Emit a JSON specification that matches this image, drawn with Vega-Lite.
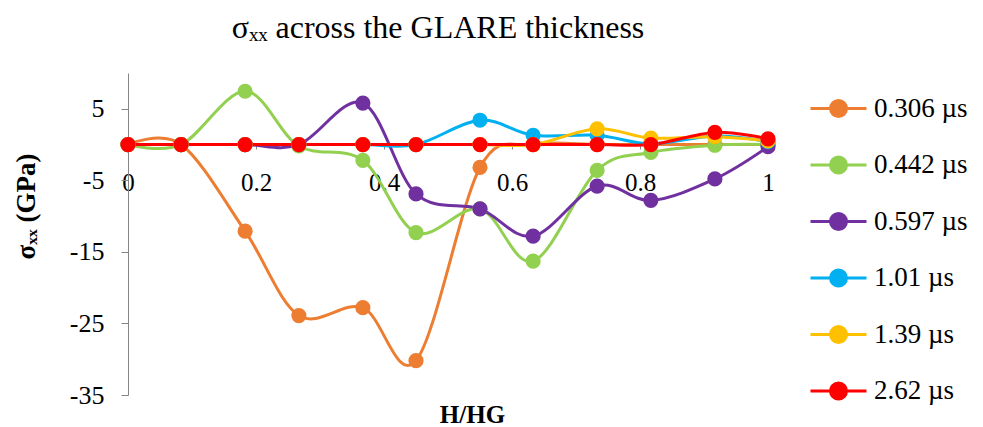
{
  "$schema": "https://vega.github.io/schema/vega-lite/v6.json",
  "autosize": {"type": "none"},
  "padding": {"left": 128, "top": 73, "right": 215, "bottom": 32},
  "width": 640,
  "height": 322,
  "background": "white",
  "title": {
    "text": "σₓₓ across the GLARE thickness",
    "font": "Liberation Serif",
    "fontSize": 32,
    "fontWeight": "normal",
    "color": "black",
    "anchor": "middle",
    "dx": -10,
    "offset": 28
  },
  "config": {
    "view": {"stroke": null},
    "font": "Liberation Serif"
  },
  "data": {
    "values": [
      {"x": 0, "y": 0, "s": "0.306 µs"},
      {"x": 0.083, "y": 0, "s": "0.306 µs"},
      {"x": 0.183, "y": -12.1, "s": "0.306 µs"},
      {"x": 0.267, "y": -23.9, "s": "0.306 µs"},
      {"x": 0.367, "y": -22.8, "s": "0.306 µs"},
      {"x": 0.45, "y": -30.2, "s": "0.306 µs"},
      {"x": 0.55, "y": -3.2, "s": "0.306 µs"},
      {"x": 0.633, "y": 0, "s": "0.306 µs"},
      {"x": 0.733, "y": 0, "s": "0.306 µs"},
      {"x": 0.817, "y": 0, "s": "0.306 µs"},
      {"x": 0.917, "y": 0, "s": "0.306 µs"},
      {"x": 1, "y": 0, "s": "0.306 µs"},

      {"x": 0, "y": 0, "s": "0.442 µs"},
      {"x": 0.083, "y": 0, "s": "0.442 µs"},
      {"x": 0.183, "y": 7.45, "s": "0.442 µs"},
      {"x": 0.267, "y": -0.2, "s": "0.442 µs"},
      {"x": 0.367, "y": -2.2, "s": "0.442 µs"},
      {"x": 0.45, "y": -12.3, "s": "0.442 µs"},
      {"x": 0.55, "y": -9.0, "s": "0.442 µs"},
      {"x": 0.633, "y": -16.3, "s": "0.442 µs"},
      {"x": 0.733, "y": -3.6, "s": "0.442 µs"},
      {"x": 0.817, "y": -1.1, "s": "0.442 µs"},
      {"x": 0.917, "y": -0.1, "s": "0.442 µs"},
      {"x": 1, "y": 0, "s": "0.442 µs"},

      {"x": 0, "y": 0, "s": "0.597 µs"},
      {"x": 0.083, "y": 0, "s": "0.597 µs"},
      {"x": 0.183, "y": 0, "s": "0.597 µs"},
      {"x": 0.267, "y": 0, "s": "0.597 µs"},
      {"x": 0.367, "y": 5.8, "s": "0.597 µs"},
      {"x": 0.45, "y": -6.9, "s": "0.597 µs"},
      {"x": 0.55, "y": -9.0, "s": "0.597 µs"},
      {"x": 0.633, "y": -12.8, "s": "0.597 µs"},
      {"x": 0.733, "y": -5.8, "s": "0.597 µs"},
      {"x": 0.817, "y": -7.8, "s": "0.597 µs"},
      {"x": 0.917, "y": -4.8, "s": "0.597 µs"},
      {"x": 1, "y": -0.3, "s": "0.597 µs"},

      {"x": 0, "y": 0, "s": "1.01 µs"},
      {"x": 0.083, "y": 0, "s": "1.01 µs"},
      {"x": 0.183, "y": 0, "s": "1.01 µs"},
      {"x": 0.267, "y": 0, "s": "1.01 µs"},
      {"x": 0.367, "y": 0, "s": "1.01 µs"},
      {"x": 0.45, "y": 0, "s": "1.01 µs"},
      {"x": 0.55, "y": 3.4, "s": "1.01 µs"},
      {"x": 0.633, "y": 1.3, "s": "1.01 µs"},
      {"x": 0.733, "y": 1.3, "s": "1.01 µs"},
      {"x": 0.817, "y": 0.1, "s": "1.01 µs"},
      {"x": 0.917, "y": 1.2, "s": "1.01 µs"},
      {"x": 1, "y": 0.4, "s": "1.01 µs"},

      {"x": 0, "y": 0, "s": "1.39 µs"},
      {"x": 0.083, "y": 0, "s": "1.39 µs"},
      {"x": 0.183, "y": 0, "s": "1.39 µs"},
      {"x": 0.267, "y": 0, "s": "1.39 µs"},
      {"x": 0.367, "y": 0, "s": "1.39 µs"},
      {"x": 0.45, "y": 0, "s": "1.39 µs"},
      {"x": 0.55, "y": 0, "s": "1.39 µs"},
      {"x": 0.633, "y": 0, "s": "1.39 µs"},
      {"x": 0.733, "y": 2.2, "s": "1.39 µs"},
      {"x": 0.817, "y": 0.9, "s": "1.39 µs"},
      {"x": 0.917, "y": 1.1, "s": "1.39 µs"},
      {"x": 1, "y": 0.5, "s": "1.39 µs"},

      {"x": 0, "y": 0, "s": "2.62 µs"},
      {"x": 0.083, "y": 0, "s": "2.62 µs"},
      {"x": 0.183, "y": 0, "s": "2.62 µs"},
      {"x": 0.267, "y": 0, "s": "2.62 µs"},
      {"x": 0.367, "y": 0, "s": "2.62 µs"},
      {"x": 0.45, "y": 0, "s": "2.62 µs"},
      {"x": 0.55, "y": 0, "s": "2.62 µs"},
      {"x": 0.633, "y": 0, "s": "2.62 µs"},
      {"x": 0.733, "y": 0, "s": "2.62 µs"},
      {"x": 0.817, "y": 0, "s": "2.62 µs"},
      {"x": 0.917, "y": 1.7, "s": "2.62 µs"},
      {"x": 1, "y": 0.8, "s": "2.62 µs"}
    ]
  },
  "encoding": {
    "x": {
      "field": "x",
      "type": "quantitative",
      "scale": {"domain": [0, 1], "nice": false, "zero": false},
      "axis": {
        "values": [0, 0.2, 0.4, 0.6, 0.8, 1],
        "labelExpr": "'' + datum.value",
        "offset": -251,
        "grid": false,
        "domainColor": "#868686",
        "tickColor": "#868686",
        "tickSize": 5,
        "labelFont": "Liberation Serif",
        "labelFontSize": 25,
        "labelColor": "black",
        "labelPadding": 21,
        "labelFlush": false,
        "labelOverlap": false,
        "title": "H/HG",
        "titleFont": "Liberation Serif",
        "titleFontSize": 25,
        "titleFontWeight": "bold",
        "titleColor": "black",
        "titleX": 344,
        "titleY": 278,
        "titleAlign": "center",
        "titleBaseline": "alphabetic"
      }
    },
    "y": {
      "field": "y",
      "type": "quantitative",
      "scale": {"domain": [-35, 10], "nice": false, "zero": false},
      "axis": {
        "values": [-35, -25, -15, -5, 5],
        "labelExpr": "'' + datum.value",
        "grid": false,
        "domainColor": "#868686",
        "tickColor": "#868686",
        "tickSize": 7,
        "labelFont": "Liberation Serif",
        "labelFontSize": 26,
        "labelColor": "black",
        "labelPadding": 17,
        "labelOverlap": false,
        "title": "σₓₓ (GPa)",
        "titleFont": "Liberation Serif",
        "titleFontSize": 27,
        "titleFontWeight": "bold",
        "titleColor": "black",
        "titleX": -102,
        "titleY": 133,
        "titleAngle": -90,
        "titleAlign": "center",
        "titleBaseline": "middle"
      }
    },
    "color": {
      "field": "s",
      "type": "nominal",
      "scale": {
        "domain": ["0.306 µs", "0.442 µs", "0.597 µs", "1.01 µs", "1.39 µs", "2.62 µs"],
        "range": ["#ED7D31", "#92D050", "#7030A0", "#00B0F0", "#FFC000", "#FF0000"]
      },
      "legend": {
        "title": null,
        "orient": "none",
        "legendX": 697,
        "legendY": 22,
        "symbolType": "M-3.5,0H3.5M1,0A1,1,0,1,1,-1,0A1,1,0,1,1,1,0Z",
        "symbolSize": 256,
        "symbolStrokeWidth": 3,
        "labelOffset": 22,
        "labelFont": "Liberation Serif",
        "labelFontSize": 27,
        "labelColor": "black",
        "labelLimit": 300,
        "rowPadding": 27.5
      }
    }
  },
  "layer": [
    {
      "mark": {"type": "line", "interpolate": "cardinal", "strokeWidth": 3, "clip": false}
    },
    {
      "mark": {"type": "point", "filled": true, "opacity": 1, "size": 230, "shape": "circle"}
    }
  ]
}
